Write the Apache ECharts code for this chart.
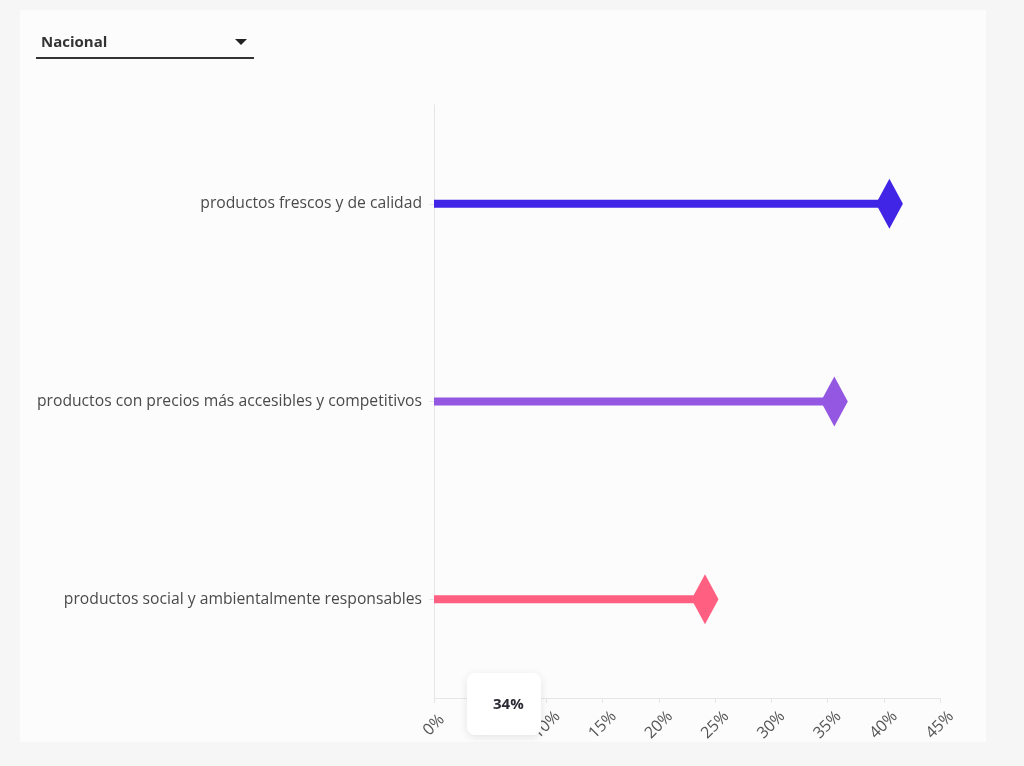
<!DOCTYPE html>
<html>
<head>
<meta charset="utf-8">
<script src="https://cdn.jsdelivr.net/npm/echarts@6/dist/echarts.min.js"></script>
<style>
  html, body { margin: 0; padding: 0; width: 1024px; height: 766px; background: #f6f6f6; overflow: hidden; }
  #card { position: absolute; left: 20px; top: 10px; width: 966px; height: 732px; background: #fcfcfc; }
  #main { position: absolute; left: 0; top: 0; width: 1024px; height: 766px; }
  #select { position: absolute; left: 36px; top: 30px; width: 218px; height: 27px; border-bottom: 2px solid #333;
            font-family: "Open Sans", Lato, sans-serif; font-weight: bold; font-size: 15px; color: #333; }
  #select span { position: absolute; left: 5px; top: 1px; }
  #select i { position: absolute; left: 199px; top: 9px; width: 0; height: 0;
              border-left: 6px solid transparent; border-right: 6px solid transparent; border-top: 6px solid #222; }
</style>
</head>
<body>
<div id="card"></div>
<div id="main"></div>
<div id="select"><span>Nacional</span><i></i></div>
<script>
// categorias y valores (%)
var categories = [
    'productos frescos y de calidad',
    'productos con precios más accesibles y competitivos',
    'productos social y ambientalmente responsables'
];
var values = [40.5, 35.6, 24.1];
var colors = ['#4125e6', '#9457e2', '#ff5f80'];
var tooltipText = '34%';

var myChart = echarts.init(document.getElementById('main'), null, { renderer: 'canvas' });

var barData = [];
var pointData = [];
for (var i = 0; i < values.length; i++) {
    barData.push({ value: values[i], itemStyle: { color: colors[i] } });
    pointData.push({ value: values[i], itemStyle: { color: colors[i], opacity: 1 } });
}

var option = {
    backgroundColor: 'transparent',
    textStyle: { fontFamily: '"Open Sans", Lato, sans-serif' },
    grid: { left: 434, right: 84, top: 105, bottom: 68 },
    xAxis: {
        type: 'value',
        min: 0,
        max: 45,
        interval: 5,
        axisLine: { show: true, lineStyle: { color: '#e6e6e6', width: 1 } },
        axisTick: { show: true, length: 5, lineStyle: { color: '#e6e6e6' } },
        splitLine: { show: false },
        axisLabel: {
            rotate: 45,
            color: '#555',
            fontSize: 16,
            margin: 27,
            align: 'center',
            verticalAlign: 'middle',
            formatter: '{value}%'
        }
    },
    yAxis: {
        type: 'category',
        inverse: true,
        data: categories,
        axisLine: { show: true, lineStyle: { color: '#e6e6e6', width: 1 } },
        axisTick: { show: true, length: 5, alignWithLabel: true, lineStyle: { color: '#e6e6e6' } },
        axisLabel: { color: '#4a4a4a', fontSize: 15.7, margin: 12 }
    },
    series: [
        {
            type: 'bar',
            data: barData,
            barWidth: 8,
            silent: true,
            z: 2
        },
        {
            type: 'scatter',
            data: pointData,
            symbol: 'diamond',
            symbolSize: [27, 50],
            silent: true,
            z: 3
        }
    ],
    graphic: [
        {
            type: 'rect',
            left: 467,
            top: 673,
            shape: { width: 74, height: 62, r: 8 },
            style: {
                fill: '#ffffff',
                shadowBlur: 8,
                shadowColor: 'rgba(0,0,0,0.10)',
                shadowOffsetY: 2
            },
            z: 100
        },
        {
            type: 'text',
            left: 493,
            top: 697,
            style: {
                text: tooltipText,
                fill: '#2a2a35',
                font: 'bold 15px "Open Sans", Lato, sans-serif'
            },
            z: 101
        }
    ]
};

myChart.setOption(option);
</script>
</body>
</html>
